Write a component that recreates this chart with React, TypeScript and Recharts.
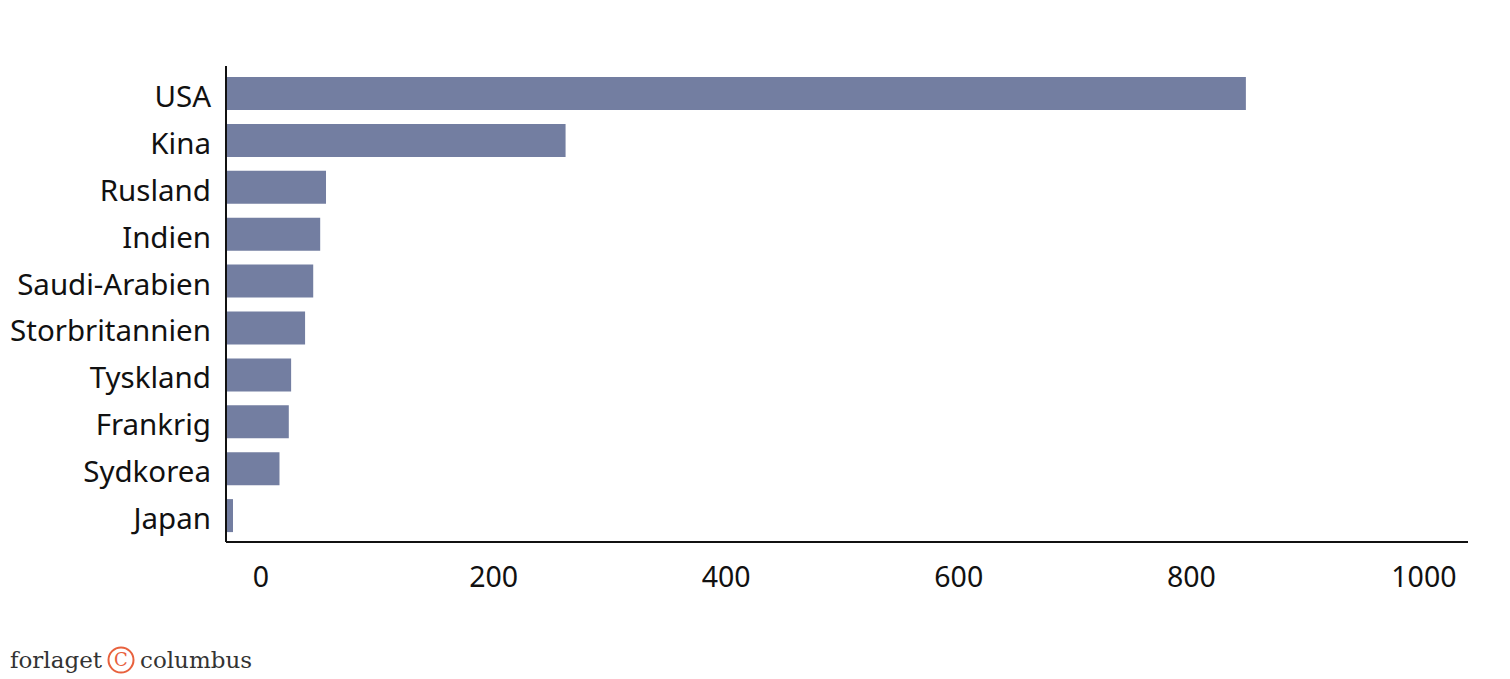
import { Bar, BarChart, XAxis, YAxis } from 'recharts'

const countries = [
  'USA',
  'Kina',
  'Rusland',
  'Indien',
  'Saudi-Arabien',
  'Storbritannien',
  'Tyskland',
  'Frankrig',
  'Sydkorea',
  'Japan',
]
const spending = [877, 292, 86, 81, 75, 68, 56, 54, 46, 6]
const xTicks = [0, 200, 400, 600, 800, 1000]

const data = countries.map((name, i) => ({ name, value: spending[i] }))

const font = '"Noto Sans", Lato, sans-serif'

export default function App() {
  return (
    <div style={{ position: 'absolute', left: 0, top: 0, width: 1510, height: 679, background: '#fff' }}>
      <BarChart
        width={1510}
        height={600}
        data={data}
        layout="vertical"
        margin={{ top: 66, right: 42, bottom: 8, left: 0 }}
      >
        <XAxis
          type="number"
          domain={[0, 1068]}
          ticks={xTicks}
          height={50}
          tickLine={false}
          tickSize={0}
          tickMargin={25}
          axisLine={{ stroke: '#111', strokeWidth: 2 }}
          tick={{ fill: '#111', fontSize: 28.5, fontFamily: font, dx: 35 }}
        />
        <YAxis
          type="category"
          dataKey="name"
          width={226}
          padding={{ top: 4, bottom: 3 }}
          tickLine={false}
          tickSize={0}
          tickMargin={15}
          axisLine={{ stroke: '#111', strokeWidth: 2 }}
          tick={{ fill: '#111', fontSize: 29.5, fontFamily: font, dy: 3 }}
        />
        <Bar dataKey="value" fill="#737ea1" barSize={33} isAnimationActive={false} />
      </BarChart>
      <div
        style={{
          position: 'absolute',
          left: 10,
          top: 646,
          fontFamily: '"DejaVu Serif", serif',
          fontSize: 23,
          color: '#333',
          display: 'flex',
          alignItems: 'center',
          gap: 5,
        }}
      >
        <span>forlaget</span>
        <svg width={28} height={28} viewBox="0 0 28 28">
          <circle cx={14} cy={14} r={12.5} fill="none" stroke="#e8613d" strokeWidth={2} />
          <text x={14} y={20} textAnchor="middle" fontSize={18} fill="#e8613d" fontFamily='"DejaVu Serif", serif'>
            C
          </text>
        </svg>
        <span>columbus</span>
      </div>
    </div>
  )
}
